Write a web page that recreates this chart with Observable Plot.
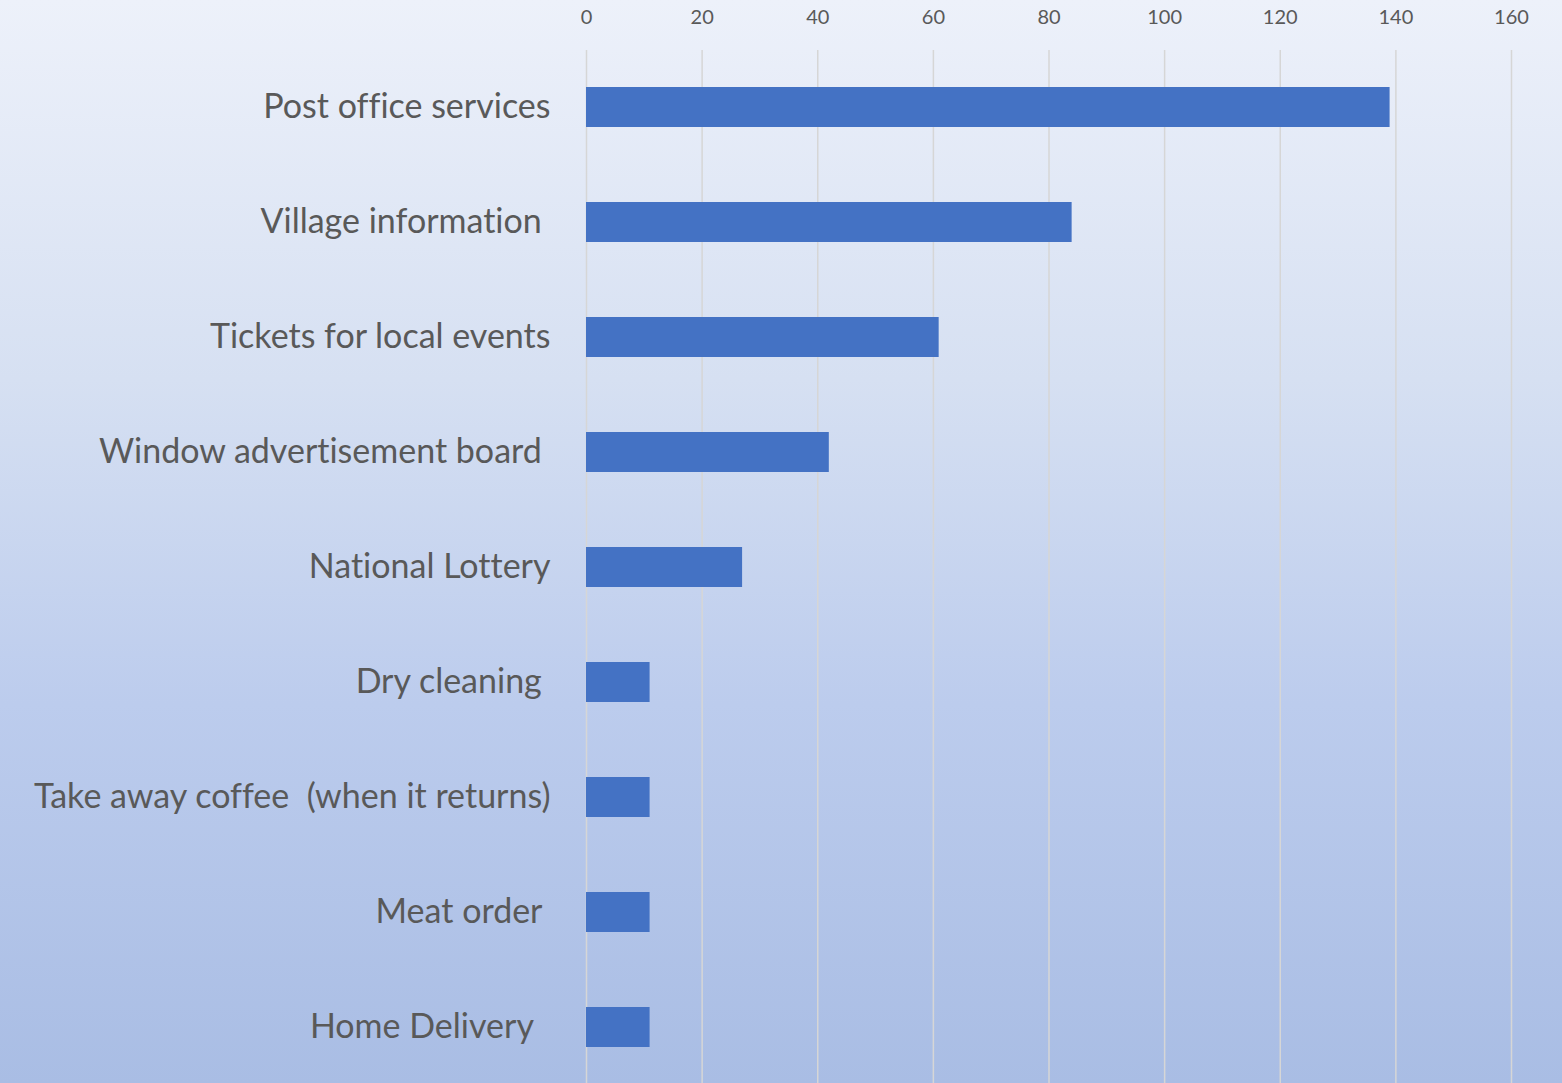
<!DOCTYPE html>
<html>
<head>
<meta charset="utf-8">
<script src="https://cdn.jsdelivr.net/npm/d3@7"></script>
<script src="https://cdn.jsdelivr.net/npm/@observablehq/plot@0.6"></script>
<style>
  html, body { margin: 0; padding: 0; }
  body { width: 1562px; height: 1083px; overflow: hidden; }
  #chart { width: 1562px; height: 1083px;
    background: linear-gradient(to bottom, #edf1fa 0%, #d6e0f2 35%, #bccced 65%, #a9bde4 100%); }
  #chart svg { display: block; white-space: pre; font-variant-ligatures: none; }
</style>
</head>
<body>
<div id="chart"></div>
<script>
const categories = [
  "Post office services",
  "Village information ",
  "Tickets for local events",
  "Window advertisement board ",
  "National Lottery",
  "Dry cleaning ",
  "Take away coffee  (when it returns)",
  "Meat order ",
  "Home Delivery  "
];
const values = [139, 84, 61, 42, 27, 11, 11, 11, 11];
const xTicks = [0, 20, 40, 60, 80, 100, 120, 140, 160];

const data = categories.map((c, i) => ({category: c, value: values[i]}));

const chart = Plot.plot({
  width: 1562,
  height: 1083,
  marginTop: 50,
  marginBottom: -2,
  marginLeft: 586,
  marginRight: 51,
  style: {background: "transparent", fontFamily: "Lato, 'Open Sans', sans-serif", color: "#595959", overflow: "hidden"},
  x: {domain: [0, 160], axis: null, label: null},
  y: {domain: categories, paddingInner: 0.65, paddingOuter: 0.325, axis: null, label: null},
  marks: [
    Plot.ruleX(xTicks, {stroke: "#d6d6d6", strokeWidth: 1.5, strokeOpacity: 1}),
    Plot.barX(data, {y: "category", x: "value", fill: "#4472c4"}),
    Plot.axisX({anchor: "top", ticks: xTicks, tickSize: 0, tickPadding: 27, fontSize: 20, fill: "#595959", label: null, tickFormat: d => String(d)}),
    Plot.axisY({anchor: "left", tickSize: 0, tickPadding: 36, fontSize: 34, fill: "#595959", label: null})
  ]
});
document.getElementById("chart").appendChild(chart);
</script>
</body>
</html>
